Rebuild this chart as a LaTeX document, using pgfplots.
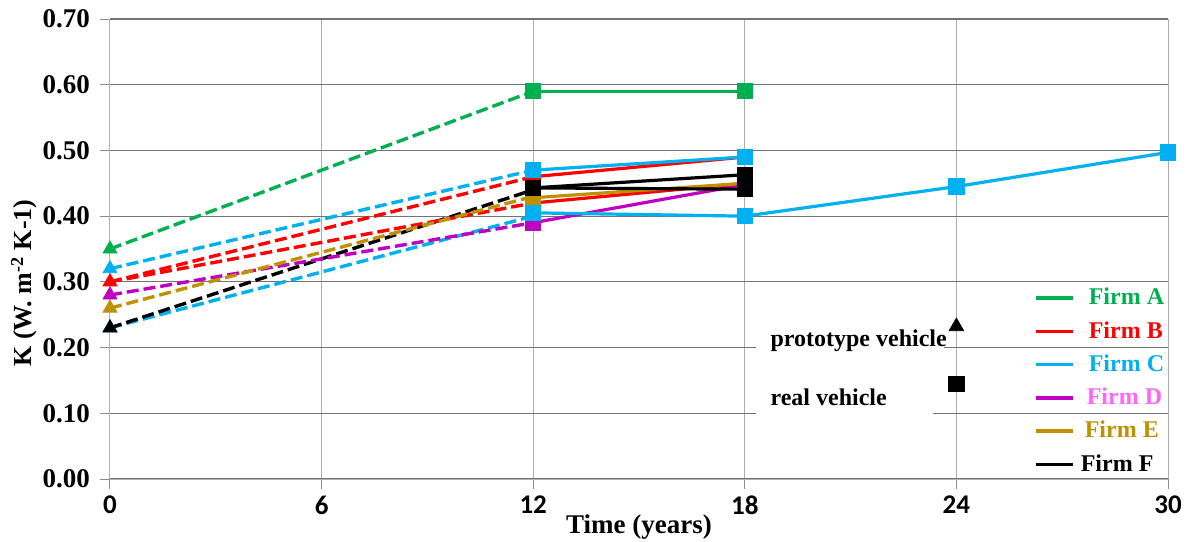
\documentclass[border=0pt]{standalone}
\usepackage{fontspec}
\setmainfont{Liberation Serif}
\newfontfamily\carlito{Carlito}
\usepackage{pgfplots}
\pgfplotsset{compat=1.18}

\definecolor{firmA}{HTML}{00B050}
\definecolor{firmB}{HTML}{FF0000}
\definecolor{firmC}{HTML}{00B0F0}
\definecolor{firmD}{HTML}{C000C0}
\definecolor{firmDtext}{HTML}{FF66FF}
\definecolor{firmE}{HTML}{BF9000}
\definecolor{firmF}{HTML}{000000}

\begin{document}
\begin{tikzpicture}
\begin{axis}[
    width=529pt, height=230pt,
    scale only axis,
    xmin=0, xmax=30, ymin=0, ymax=0.70,
    xtick={0,6,12,18,24,30},
    xticklabels={0,6,12,18,24,30},
    ytick={0,0.1,0.2,0.3,0.4,0.5,0.6,0.7},
    yticklabels={0.00,0.10,0.20,0.30,0.40,0.50,0.60,0.70},
    xticklabel style={font=\carlito\fontsize{13.5}{15}\selectfont\bfseries},
    yticklabel style={font=\fontsize{13.5}{15}\selectfont\bfseries, xshift=-1.5pt},
    axis x line*=bottom, axis y line*=left,
    axis line style={color=black!30, line width=0.5pt},
    tick align=outside, major tick length=5pt,
    tick style={color=black!45, line width=0.5pt},
    grid=major,
    x grid style={color=black!32, line width=0.5pt},
    y grid style={color=black!55, line width=0.6pt},
    xlabel={Time (years)},
    ylabel={K (W. m\textsuperscript{-2} K-1)},
    xlabel style={font=\fontsize{13.5}{15}\selectfont\bfseries, at={(axis description cs:0.5,-0.104)}, anchor=center},
    ylabel style={font=\fontsize{13}{15}\selectfont\bfseries, at={(axis description cs:-0.081,0.426)}, anchor=center, rotate=0},
    legend style={draw=none, fill=none, at={(axis cs:26.2,0.297)}, anchor=north west,
        font=\fontsize{12}{14}\selectfont\bfseries, row sep=2.8pt, inner sep=0pt},
    legend cell align=left,
    legend image code/.code={\draw[#1] (0pt,0pt) -- (18.5pt,0pt);},
    clip=false,
]

% legend entries
\addlegendimage{firmA, line width=1.7pt}
\addlegendentry{\hspace{5pt}\textcolor{firmA}{Firm A}}
\addlegendimage{firmB, line width=1.7pt}
\addlegendentry{\hspace{5pt}\textcolor{firmB}{Firm B}}
\addlegendimage{firmC, line width=1.7pt}
\addlegendentry{\hspace{5pt}\textcolor{firmC}{Firm C}}
\addlegendimage{firmD, line width=1.7pt}
\addlegendentry{\hspace{4pt}\textcolor{firmDtext}{Firm D}}
\addlegendimage{firmE, line width=1.7pt}
\addlegendentry{\hspace{3pt}\textcolor{firmE}{Firm E}}
\addlegendimage{firmF, line width=1.7pt}
\addlegendentry{\hspace{1pt}\textcolor{firmF}{Firm F}}

\pgfplotsset{
  dsh/.style={line width=1.7pt, dash pattern=on 6pt off 2.5pt, no markers, forget plot},
  sld/.style={line width=1.6pt, solid, mark=square*, mark size=3.3pt, forget plot},
  tri/.style={only marks, mark=triangle*, mark size=4pt, forget plot},
}

% dashed: prototype (0) -> real vehicle (12)
\addplot[dsh, firmC] coordinates {(0,0.23) (12,0.40)};
\addplot[dsh, firmF] coordinates {(0,0.23) (12,0.44)};
\addplot[dsh, firmD] coordinates {(0,0.28) (12,0.39)};
\addplot[dsh, firmB] coordinates {(0,0.30) (12,0.42)};
\addplot[dsh, firmE] coordinates {(0,0.26) (12,0.43)};
\addplot[dsh, firmB] coordinates {(0,0.30) (12,0.46)};
\addplot[dsh, firmC] coordinates {(0,0.32) (12,0.47)};
\addplot[dsh, firmA] coordinates {(0,0.35) (12,0.59)};

% solid: real vehicles
\addplot[sld, firmA] coordinates {(12,0.59) (18,0.59)};
\addplot[sld, firmB] coordinates {(12,0.46) (18,0.49)};
\addplot[sld, firmC] coordinates {(12,0.47) (18,0.49)};
\addplot[sld, firmD] coordinates {(12,0.39) (18,0.448)};
\addplot[sld, firmB] coordinates {(12,0.42) (18,0.45)};
\addplot[sld, firmE] coordinates {(12,0.428) (18,0.45)};
\addplot[sld, firmC] coordinates {(12,0.405) (18,0.40) (24,0.445) (30,0.497)};
\addplot[sld, firmF] coordinates {(12,0.443) (18,0.441)};
\addplot[sld, firmF] coordinates {(12,0.443) (18,0.463)};

% triangles at t=0
\addplot[tri, firmC] coordinates {(0,0.23)};
\addplot[tri, firmF] coordinates {(0,0.23)};
\addplot[tri, firmE] coordinates {(0,0.26)};
\addplot[tri, firmD] coordinates {(0,0.28)};
\addplot[tri, firmB] coordinates {(0,0.30)};
\addplot[tri, firmC] coordinates {(0,0.32)};
\addplot[tri, firmA] coordinates {(0,0.35)};

% key for marker shapes
\fill[white] (axis cs:18.32,0.19) rectangle (axis cs:23.65,0.215);
\fill[white] (axis cs:18.32,0.09) rectangle (axis cs:23.33,0.11);
\node[anchor=west, inner sep=0pt, font=\fontsize{12}{14}\selectfont\bfseries] at (axis cs:18.72,0.211) {prototype vehicle};
\node[anchor=west, inner sep=0pt, font=\fontsize{12}{14}\selectfont\bfseries] at (axis cs:18.72,0.124) {real vehicle};
\addplot[only marks, mark=triangle*, mark size=4.2pt, black, forget plot] coordinates {(24,0.232)};
\addplot[only marks, mark=square*, mark size=3.9pt, black, forget plot] coordinates {(24,0.145)};

\end{axis}
\pgfresetboundingbox
\useasboundingbox (-55pt,-31pt) rectangle (541pt,239.5pt);
\end{tikzpicture}
\end{document}
